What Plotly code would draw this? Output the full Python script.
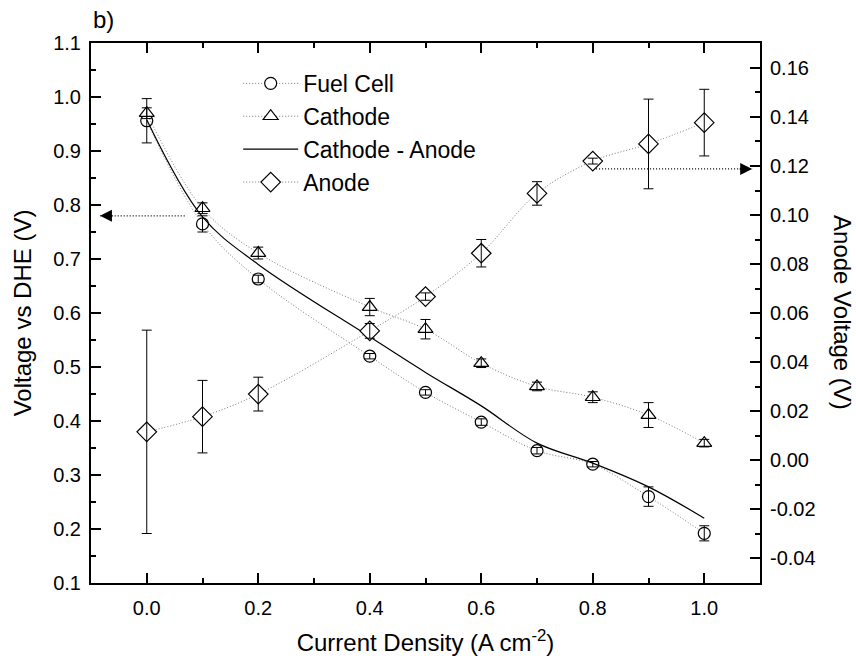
import plotly.graph_objects as go

# ---- data ----
current = [0.0, 0.1, 0.2, 0.4, 0.5, 0.6, 0.7, 0.8, 0.9, 1.0]

fuel_cell = [0.956, 0.765, 0.663, 0.520, 0.453, 0.398, 0.345, 0.320, 0.260, 0.192]
fuel_cell_err = [0.041, 0.015, 0.007, 0.005, 0.005, 0.006, 0.006, 0.005, 0.018, 0.014]

cathode = [0.970, 0.794, 0.711, 0.611, 0.570, 0.507, 0.464, 0.444, 0.411, 0.359]
cathode_err = [0.010, 0.010, 0.011, 0.016, 0.018, 0.008, 0.008, 0.010, 0.023, 0.007]

cath_minus_anode = [0.958, 0.778, 0.690, 0.556, 0.490, 0.428, 0.359, 0.322, 0.278, 0.220]

anode = [0.0115, 0.0177, 0.0269, 0.0527, 0.0667, 0.0844, 0.1088, 0.1220, 0.1290, 0.1377]
anode_err = [0.0415, 0.0148, 0.0069, 0.0030, 0.0015, 0.0056, 0.0048, 0.0012, 0.0183, 0.0136]

x_ticks = [0.0, 0.2, 0.4, 0.6, 0.8, 1.0]
y_ticks = [0.1, 0.2, 0.3, 0.4, 0.5, 0.6, 0.7, 0.8, 0.9, 1.0, 1.1]
y2_ticks = [-0.04, -0.02, 0.00, 0.02, 0.04, 0.06, 0.08, 0.10, 0.12, 0.14, 0.16]
y2_labels = ["-0.04", "-0.02", "0.00", "0.02", "0.04", "0.06", "0.08", "0.10", "0.12", "0.14", "0.16"]

# arrow indicators (which axis each curve belongs to)
left_arrow = dict(x_from=0.068, x_to=-0.084, y=0.78)
right_arrow = dict(x_from=0.806, x_to=1.086, y=0.1188)

FONT = "Liberation Sans, Arial, sans-serif"
DOT = "1px,2px"
GREY = "#777777"

fig = go.Figure()

marker_line = dict(color="black", width=1.2)

fig.add_trace(go.Scatter(
    x=current, y=fuel_cell, name="Fuel Cell", mode="lines+markers",
    line=dict(color=GREY, width=1, dash=DOT, shape="spline"),
    marker=dict(symbol="circle", size=12, color="white", line=marker_line),
))
fig.add_trace(go.Scatter(
    x=current, y=cathode, name="Cathode", mode="lines+markers",
    line=dict(color=GREY, width=1, dash=DOT, shape="spline"),
    marker=dict(symbol="triangle-up", size=13, color="white", line=marker_line),
))
fig.add_trace(go.Scatter(
    x=current, y=cath_minus_anode, name="Cathode - Anode", mode="lines",
    line=dict(color="black", width=1.2, shape="spline"),
))
fig.add_trace(go.Scatter(
    x=current, y=anode, name="Anode", mode="lines+markers", yaxis="y2",
    line=dict(color=GREY, width=1, dash=DOT, shape="spline"),
    marker=dict(symbol="diamond", size=15, color="white", line=marker_line),
))

# error bars drawn on top of the markers
err_style = dict(type="data", color="black", thickness=1, width=5)
for yy, ee, ax in [(fuel_cell, fuel_cell_err, "y"), (cathode, cathode_err, "y"), (anode, anode_err, "y2")]:
    fig.add_trace(go.Scatter(
        x=current, y=yy, mode="markers", yaxis=ax, showlegend=False, hoverinfo="skip",
        marker=dict(size=1, color="rgba(0,0,0,0)"),
        error_y=dict(array=ee, **err_style),
    ))

# dotted arrows
for arr, yref in [(left_arrow, "y"), (right_arrow, "y2")]:
    fig.add_shape(type="line", xref="x", yref=yref,
                  x0=arr["x_from"], x1=arr["x_to"], y0=arr["y"], y1=arr["y"],
                  line=dict(color="black", width=1.3, dash="1px,2px"))
    direction = 1 if arr["x_to"] < arr["x_from"] else -1
    fig.add_annotation(x=arr["x_to"], y=arr["y"], xref="x", yref=yref,
                       ax=14 * direction, ay=0, text="", showarrow=True,
                       arrowhead=2, arrowsize=1.6, arrowwidth=1.5, arrowcolor="black",
                       standoff=0)

fig.add_annotation(text="b)", xref="paper", yref="paper", x=0.0, y=1.043,
                   xanchor="left", yanchor="middle", showarrow=False,
                   font=dict(size=24, color="black", family=FONT))

# right axis title reads top-to-bottom in the reference
fig.add_annotation(text="Anode Voltage (V)", xref="paper", yref="paper", x=1.124, y=0.5,
                   xanchor="center", yanchor="middle", showarrow=False, textangle=90,
                   font=dict(size=24, color="black", family=FONT))

axis_common = dict(showline=True, linecolor="black", linewidth=2, showgrid=False,
                   zeroline=False, ticks="inside", ticklen=10, tickwidth=1.5,
                   tickcolor="black", tickfont=dict(size=20, color="black", family=FONT))

fig.update_layout(
    width=856, height=656,
    margin=dict(l=91, r=96, t=43, b=73),
    paper_bgcolor="white", plot_bgcolor="white",
    font=dict(family=FONT, color="black"),
    xaxis=dict(range=[-0.1, 1.1], tickvals=x_ticks, tickformat=".1f", mirror="ticks",
               minor=dict(dtick=0.1, tick0=0, ticks="inside", ticklen=5, tickwidth=1.5, tickcolor="black"),
               title=dict(text="Current Density (A cm<sup>-2</sup>)", font=dict(size=24), standoff=18),
               ticklabelstandoff=6, automargin=False, **axis_common),
    yaxis=dict(range=[0.1, 1.1], tickvals=y_ticks, tickformat=".1f",
               minor=dict(dtick=0.05, tick0=0.1, ticks="inside", ticklen=5, tickwidth=1.5, tickcolor="black"),
               title=dict(text="Voltage vs DHE (V)", font=dict(size=24), standoff=15),
               ticklabelstandoff=4, automargin=False, **axis_common),
    yaxis2=dict(range=[-0.0502, 0.1702], overlaying="y", side="right",
                tickvals=y2_ticks, ticktext=y2_labels,
                minor=dict(dtick=0.01, tick0=0, ticks="inside", ticklen=5, tickwidth=1.5, tickcolor="black"),
                ticklabelstandoff=4, automargin=False, **axis_common),
    legend=dict(x=0.22, y=0.965, xanchor="left", yanchor="top", bgcolor="rgba(0,0,0,0)",
                font=dict(size=23, color="black", family=FONT), itemwidth=55, tracegroupgap=0),
    showlegend=True,
)

fig.write_html("out.html", config={"displayModeBar": False},
               post_script="document.body.style.margin='0';document.body.style.padding='0';")
